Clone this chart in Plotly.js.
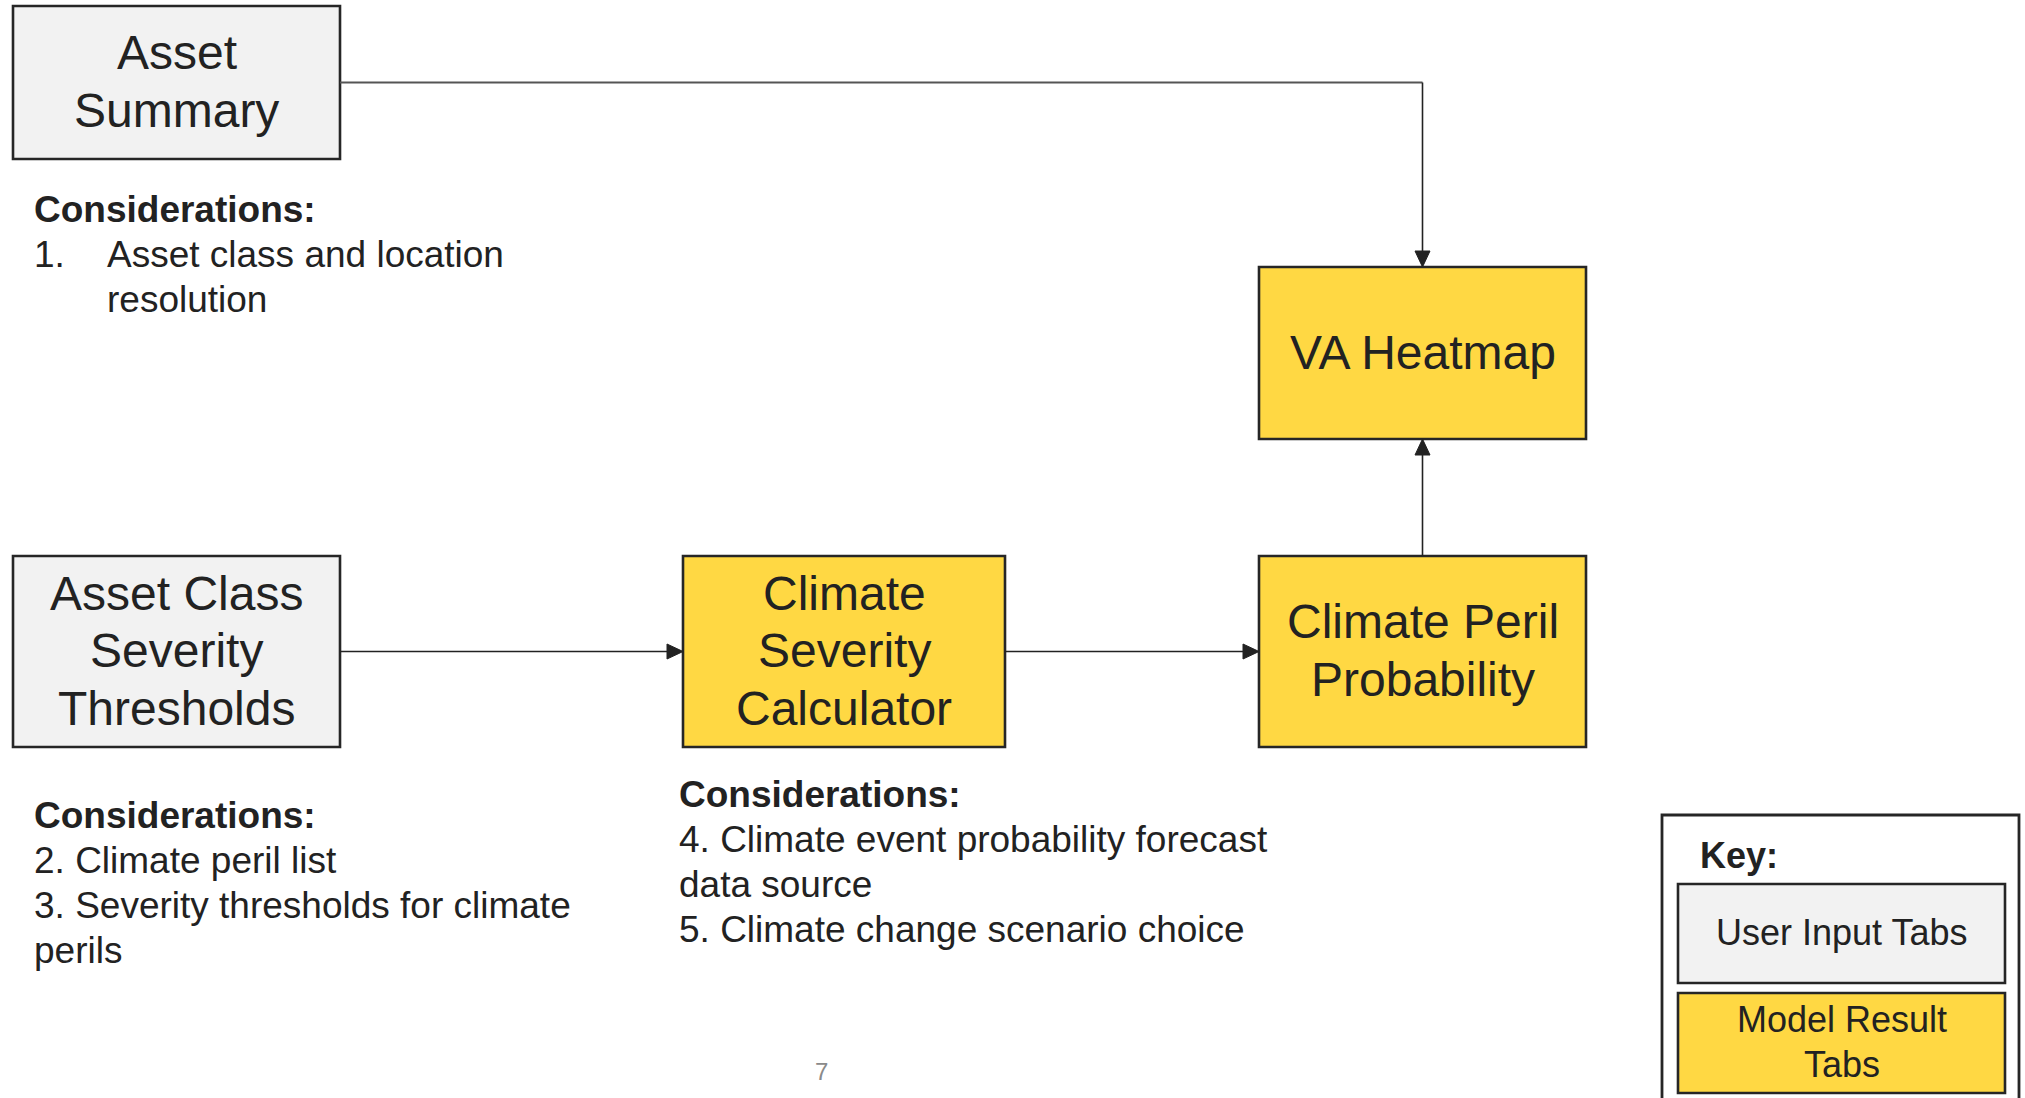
<!DOCTYPE html>
<html>
<head>
<meta charset="utf-8">
<script src="https://cdn.plot.ly/plotly-3.0.1.min.js"></script>
<style>
  html, body { margin: 0; padding: 0; background: #ffffff; }
  #chart { width: 2025px; height: 1098px; }
</style>
</head>
<body>
<div id="chart"></div>
<script>
// ---------- content (text / structure) ----------
const nodeNames = ["Asset Summary", "Asset Class Severity Thresholds", "Climate Severity Calculator", "Climate Peril Probability", "VA Heatmap"];
const nodeLines = [["Asset", "Summary"], ["Asset Class", "Severity", "Thresholds"], ["Climate", "Severity", "Calculator"], ["Climate Peril", "Probability"], ["VA Heatmap"]];
const nodeKinds = ["input", "input", "result", "result", "result"];
const edgeFrom = [0, 1, 2, 3];
const edgeTo = [4, 2, 3, 4];
const considerationHeader = "Considerations:";
const considerationsA = [["1.", "Asset class and location"], ["", "resolution"]];
const considerationsB = ["2. Climate peril list", "3. Severity thresholds for climate", "perils"];
const considerationsC = ["4. Climate event probability forecast", "data source", "5. Climate change scenario choice"];
const keyTitle = "Key:";
const keyLabels = [["User Input Tabs"], ["Model Result", "Tabs"]];
const keyKinds = ["input", "result"];
const pageNumber = "7";

// ---------- layout geometry (pixels on a 2025 x 1098 canvas) ----------
const W = 2025, H = 1098;
const geom = {
  boxes: [
    {x0: 13, x1: 340, y0: 6, y1: 159},
    {x0: 13, x1: 340, y0: 556, y1: 747},
    {x0: 683, x1: 1005, y0: 556, y1: 747},
    {x0: 1259, x1: 1586, y0: 556, y1: 747},
    {x0: 1259, x1: 1586, y0: 267, y1: 439}
  ],
  keyOuter: {x0: 1662, x1: 2019, y0: 815, y1: 1120},
  keyBoxes: [
    {x0: 1678, x1: 2005, y0: 884, y1: 983},
    {x0: 1678, x1: 2005, y0: 993, y1: 1093}
  ],
  blockA: {x: 32, indent: 105, y: 209},
  blockB: {x: 32, y: 815},
  blockC: {x: 677, y: 794},
  keyTitle: {x: 1698, y: 855},
  page: {x: 821, y: 1071},
  lineGap: 45.3,
  boxLineGap: 57.5
};
const style = {
  font: "Liberation Sans, Arial, Helvetica, sans-serif",
  text: "#222222",
  border: "#262626",
  fill: {input: "#f2f2f2", result: "#ffd843"},
  boxFont: 48,
  noteFont: 37,
  keyFont: 36,
  arrowColor: "#222222",
  arrowW: 1.6,
  headLen: 16,
  headHalf: 7.5
};

const shapes = [];
const annotations = [];

function rect(b, kind, lw) {
  shapes.push({type: "rect", xref: "x", yref: "y", x0: b.x0, x1: b.x1, y0: b.y0, y1: b.y1,
    fillcolor: kind ? style.fill[kind] : "rgba(0,0,0,0)", line: {color: style.border, width: lw}, layer: "below"});
}
function txt(x, y, s, size, anchor, bold, color) {
  annotations.push({xref: "x", yref: "y", x: x, y: y, text: bold ? "<b>" + s + "</b>" : s,
    showarrow: false, xanchor: anchor, yanchor: "middle",
    font: {family: style.font, size: size, color: color || style.text}});
}
function centeredLines(b, lines, size, gap, dy) {
  const cx = (b.x0 + b.x1) / 2, cy = (b.y0 + b.y1) / 2;
  const n = lines.length;
  lines.forEach((l, i) => txt(cx, cy + (i - (n - 1) / 2) * gap + dy, l, size, "center"));
}
function head(x, y, dir) {
  const L = style.headLen, h = style.headHalf;
  let p;
  if (dir === "right") p = `M${x},${y} L${x - L},${y - h} L${x - L},${y + h} Z`;
  if (dir === "down") p = `M${x},${y} L${x - h},${y - L} L${x + h},${y - L} Z`;
  if (dir === "up") p = `M${x},${y} L${x - h},${y + L} L${x + h},${y + L} Z`;
  shapes.push({type: "path", xref: "x", yref: "y", path: p, fillcolor: style.arrowColor, line: {color: style.arrowColor, width: 1}});
}
function seg(pts, color, w) {
  const p = pts.map((q, i) => (i ? "L" : "M") + q[0] + "," + q[1]).join(" ");
  shapes.push({type: "path", xref: "x", yref: "y", path: p, line: {color: color, width: w}});
}

// nodes
nodeNames.forEach((name, i) => {
  rect(geom.boxes[i], nodeKinds[i], 2.6);
  centeredLines(geom.boxes[i], nodeLines[i], style.boxFont, geom.boxLineGap, -1);
});

// edges (routed orthogonally between box sides)
edgeFrom.forEach((f, k) => {
  const a = geom.boxes[f], b = geom.boxes[edgeTo[k]];
  const acx = (a.x0 + a.x1) / 2, acy = (a.y0 + a.y1) / 2;
  const bcx = (b.x0 + b.x1) / 2, bcy = (b.y0 + b.y1) / 2;
  if (Math.abs(acy - bcy) < 5) {
    seg([[a.x1, acy], [b.x0 - style.headLen + 2, acy]], style.arrowColor, style.arrowW);
    head(b.x0, acy, "right");
  } else if (Math.abs(acx - bcx) < 5) {
    seg([[acx, a.y0], [acx, b.y1 + style.headLen - 2]], style.arrowColor, style.arrowW);
    head(acx, b.y1, "up");
  } else {
    seg([[a.x1, acy], [bcx, acy]], "#555555", 2);
    seg([[bcx, acy], [bcx, b.y0 - style.headLen + 2]], style.arrowColor, style.arrowW);
    head(bcx, b.y0, "down");
  }
});

// considerations blocks
const g = geom.lineGap;
txt(geom.blockA.x, geom.blockA.y, considerationHeader, style.noteFont, "left", true);
considerationsA.forEach((r, i) => {
  if (r[0]) txt(geom.blockA.x, geom.blockA.y + (i + 1) * g, r[0], style.noteFont, "left");
  txt(geom.blockA.indent, geom.blockA.y + (i + 1) * g, r[1], style.noteFont, "left");
});
txt(geom.blockB.x, geom.blockB.y, considerationHeader, style.noteFont, "left", true);
considerationsB.forEach((s, i) => txt(geom.blockB.x, geom.blockB.y + (i + 1) * g, s, style.noteFont, "left"));
txt(geom.blockC.x, geom.blockC.y, considerationHeader, style.noteFont, "left", true);
considerationsC.forEach((s, i) => txt(geom.blockC.x, geom.blockC.y + (i + 1) * g, s, style.noteFont, "left"));

// key
rect(geom.keyOuter, null, 2.8);
txt(geom.keyTitle.x, geom.keyTitle.y, keyTitle, style.keyFont, "left", true);
keyLabels.forEach((lines, i) => {
  rect(geom.keyBoxes[i], keyKinds[i], 2.6);
  centeredLines(geom.keyBoxes[i], lines, style.keyFont, 45, -1.5);
});

// page number
txt(geom.page.x, geom.page.y, pageNumber, 24, "center", false, "#8a8a8a");

const layout = {
  width: W, height: H,
  margin: {l: 0, r: 0, t: 0, b: 0, pad: 0},
  paper_bgcolor: "#ffffff", plot_bgcolor: "#ffffff",
  xaxis: {range: [0, W], visible: false, fixedrange: true},
  yaxis: {range: [H, 0], visible: false, fixedrange: true},
  showlegend: false,
  shapes: shapes,
  annotations: annotations
};
Plotly.newPlot("chart", [{x: [], y: [], type: "scatter", mode: "markers", hoverinfo: "skip"}], layout, {staticPlot: true, displayModeBar: false});
</script>
</body>
</html>
